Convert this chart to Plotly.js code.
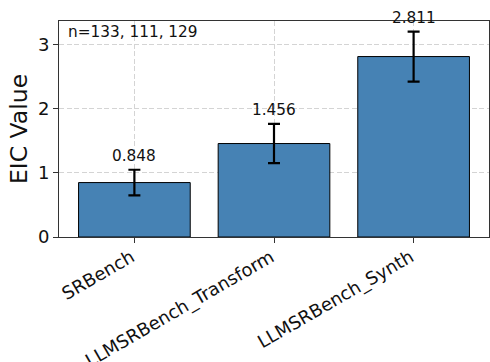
<!DOCTYPE html>
<html>
<head>
<meta charset="utf-8">
<script src="https://cdn.plot.ly/plotly-3.0.1.min.js"></script>
<style>
  html, body { margin: 0; padding: 0; background: #fff; }
  #chart { width: 490px; height: 362px; }
</style>
</head>
<body>
<div id="chart"></div>
<script>
// Benchmarks and their mean EIC with error half-widths
const benchmarks = ["SRBench", "LLMSRBench_Transform", "LLMSRBench_Synth"];
const eicMean = [0.848, 1.456, 2.811];
const eicErr = [0.20, 0.305, 0.39];
const sampleCounts = [133, 111, 129];
const yTicks = [0, 1, 2, 3];

const font = "DejaVu Sans, sans-serif";

const bars = {
  type: "bar",
  x: benchmarks,
  y: eicMean,
  width: 0.8,
  marker: { color: "#4682b4", line: { color: "#000", width: 1 } },
  error_y: { type: "data", array: eicErr, visible: true, color: "#000", thickness: 2.2, width: 6 },
  hoverinfo: "skip"
};

const valueLabels = benchmarks.map((b, i) => ({
  x: b, y: eicMean[i] + eicErr[i], xref: "x", yref: "y",
  text: eicMean[i].toFixed(3), showarrow: false,
  yanchor: "bottom", yshift: 3,
  font: { family: font, size: 15.3, color: "#111" }
}));

const countLabel = {
  xref: "paper", yref: "paper", x: 0.017, y: 0.95,
  xanchor: "left", yanchor: "middle", showarrow: false,
  text: "n=" + sampleCounts.join(", "),
  font: { family: font, size: 15.3, color: "#111" }
};

const axisLine = "#333";
const layout = {
  width: 490, height: 362,
  margin: { l: 59, r: 1, t: 21, b: 125, pad: 0 },
  paper_bgcolor: "#fff", plot_bgcolor: "#fff",
  showlegend: false,
  font: { family: font, color: "#111" },
  xaxis: {
    type: "category",
    range: [-0.54, 2.54],
    showline: true, mirror: true, linecolor: axisLine, linewidth: 1,
    ticks: "outside", ticklen: 5, tickcolor: axisLine, tickwidth: 1,
    tickangle: -30,
    ticklabelshift: -3, ticklabelstandoff: -3,
    tickfont: { family: font, size: 18, color: "#111" },
    showgrid: true, gridcolor: "#d4d4d4", griddash: "5px,2.5px", gridwidth: 1,
    zeroline: false, automargin: false
  },
  yaxis: {
    range: [0, 3.365],
    tickvals: yTicks,
    ticktext: yTicks.map(String),
    showline: true, mirror: true, linecolor: axisLine, linewidth: 1,
    ticks: "outside", ticklen: 5, tickcolor: axisLine, tickwidth: 1,
    tickfont: { family: font, size: 18, color: "#111" },
    showgrid: true, gridcolor: "#d4d4d4", griddash: "5px,2.5px", gridwidth: 1,
    zeroline: false, automargin: false,
    title: { text: "EIC Value", font: { family: font, size: 23.5, color: "#111" }, standoff: 3 }
  },
  annotations: valueLabels.concat([countLabel])
};

Plotly.newPlot("chart", [bars], layout, { displayModeBar: false, staticPlot: true });
</script>
</body>
</html>
